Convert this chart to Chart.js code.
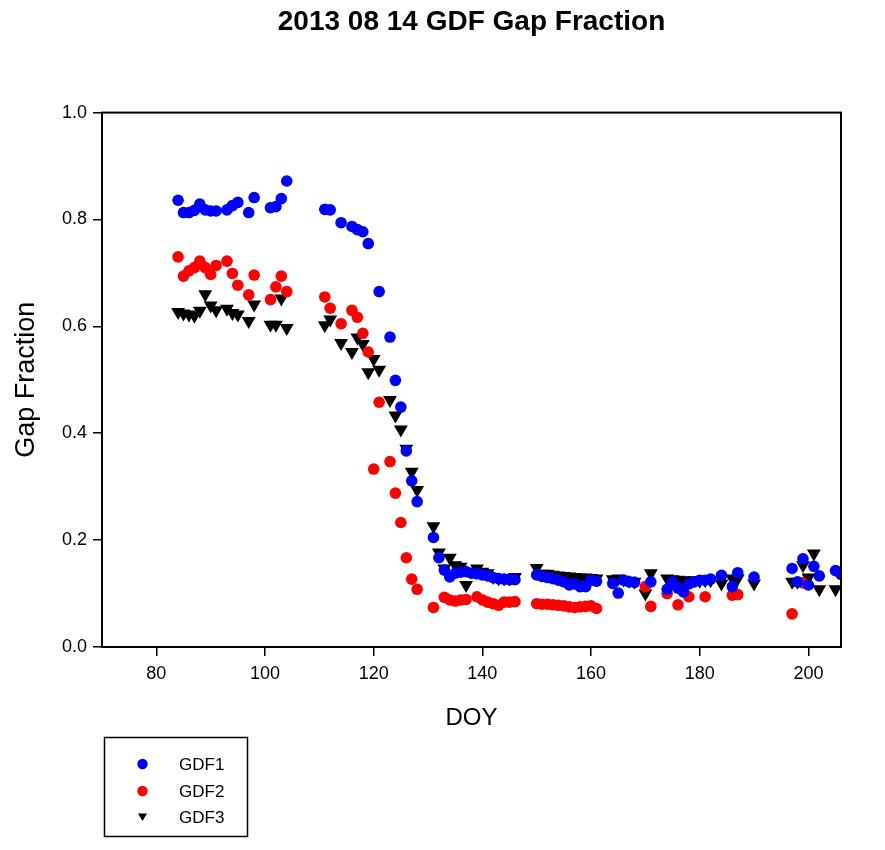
<!DOCTYPE html>
<html>
<head>
<meta charset="utf-8">
<script src="https://cdn.jsdelivr.net/npm/chart.js@4"></script>
<style>
  body { margin: 0; background: #fff; }
  canvas { display: block; }
</style>
</head>
<body>
<canvas id="grafico" width="885" height="850"></canvas>
<script>
// Datos
const gdf1Days = [84, 85, 86, 87, 88, 89, 90, 91, 93, 94, 95, 97, 98, 101, 102, 103, 104,
  111, 112, 114, 116, 117, 118, 119, 121, 123, 124, 125, 126, 127, 128,
  131, 132, 133, 134, 135, 136, 137, 138, 139, 140, 141, 142, 143, 144, 145, 146,
  150, 151, 152, 153, 154, 155, 156, 157, 158, 159, 160, 161,
  164, 165, 166, 167, 168, 171,
  174, 175, 176, 177, 178, 179, 180, 181, 182, 184, 186, 187, 190,
  197, 198, 199, 200, 201, 202, 205, 206];
const gdf1 = [0.836, 0.813, 0.813, 0.817, 0.829, 0.818, 0.816, 0.816, 0.818, 0.826, 0.832, 0.813, 0.841, 0.822, 0.824, 0.839, 0.872,
  0.819, 0.818, 0.794, 0.787, 0.781, 0.777, 0.755, 0.665, 0.580, 0.499, 0.449, 0.367, 0.311, 0.272,
  0.205, 0.167, 0.144, 0.131, 0.138, 0.140, 0.141, 0.138, 0.137, 0.135, 0.133, 0.130, 0.128, 0.127, 0.126, 0.126,
  0.135, 0.132, 0.130, 0.128, 0.125, 0.122, 0.116, 0.118, 0.113, 0.113, 0.125, 0.123,
  0.119, 0.101, 0.125, 0.122, 0.121, 0.122,
  0.108, 0.122, 0.110, 0.103, 0.118, 0.122, 0.125, 0.125, 0.127, 0.134, 0.113, 0.139, 0.131,
  0.147, 0.122, 0.165, 0.116, 0.151, 0.133, 0.143, 0.136];

const gdf2Days = [84, 85, 86, 87, 88, 89, 90, 91, 93, 94, 95, 97, 98, 101, 102, 103, 104,
  111, 112, 114, 116, 117, 118, 119, 120, 121, 123, 124, 125, 126, 127, 128,
  131, 133, 134, 135, 136, 137, 139, 140, 141, 142, 143, 144, 145, 146,
  150, 151, 152, 153, 154, 155, 156, 157, 158, 159, 160, 161,
  170, 171, 174, 176, 178, 181, 186, 187,
  197, 199];
const gdf2 = [0.730, 0.694, 0.704, 0.710, 0.722, 0.710, 0.697, 0.714, 0.722, 0.699, 0.677, 0.659, 0.696, 0.650, 0.674, 0.694, 0.665,
  0.655, 0.634, 0.605, 0.630, 0.617, 0.587, 0.552, 0.333, 0.458, 0.347, 0.288, 0.233, 0.167, 0.127, 0.108,
  0.074, 0.093, 0.088, 0.086, 0.088, 0.089, 0.094, 0.088, 0.084, 0.081, 0.078, 0.084, 0.084, 0.085,
  0.081, 0.080, 0.080, 0.079, 0.078, 0.077, 0.075, 0.074, 0.075, 0.076, 0.077, 0.072,
  0.113, 0.076, 0.100, 0.079, 0.094, 0.094, 0.097, 0.098,
  0.062, 0.120];

const gdf3Days = [84, 85, 86, 87, 88, 89, 90, 91, 93, 94, 95, 97, 98, 101, 102, 103, 104,
  111, 112, 114, 116, 117, 118, 119, 120, 121, 123, 124, 125, 126, 127, 128,
  131, 132, 133, 134, 135, 136, 137, 139, 140, 141, 142, 143, 144, 145, 146,
  150, 151, 152, 153, 154, 155, 156, 157, 158, 159, 160, 161,
  164, 165, 166, 167, 168, 170, 171,
  174, 175, 176, 177, 178, 179, 180, 181, 182, 184, 186, 187, 190,
  197, 198, 199, 200, 201, 202, 205, 206];
const gdf3 = [0.627, 0.624, 0.622, 0.620, 0.629, 0.660, 0.639, 0.630, 0.633, 0.625, 0.622, 0.610, 0.641, 0.603, 0.603, 0.652, 0.597,
  0.602, 0.613, 0.569, 0.552, 0.579, 0.567, 0.514, 0.539, 0.519, 0.462, 0.433, 0.407, 0.371, 0.328, 0.294,
  0.226, 0.177, 0.147, 0.167, 0.153, 0.150, 0.116, 0.147, 0.141, 0.138, 0.131, 0.128, 0.128, 0.128, 0.131,
  0.148, 0.137, 0.137, 0.135, 0.134, 0.133, 0.132, 0.131, 0.130, 0.130, 0.129, 0.128,
  0.127, 0.128, 0.126, 0.124, 0.122, 0.100, 0.138,
  0.128, 0.127, 0.126, 0.125, 0.124, 0.125, 0.124, 0.125, 0.125, 0.119, 0.128, 0.128, 0.119,
  0.122, 0.122, 0.153, 0.130, 0.175, 0.108, 0.108, 0.143];

const xTicks = [80, 100, 120, 140, 160, 180, 200];
const yTicks = [0, 0.2, 0.4, 0.6, 0.8, 1.0];

const fuente = "'Liberation Sans', Arial, sans-serif";

function puntos(dias, valores) {
  return dias.map((d, i) => ({ x: d, y: valores[i] }));
}

const series = [
  { label: "GDF1", data: puntos(gdf1Days, gdf1), color: "#0000ff", style: "circle", radius: 5.8, rotation: 0 },
  { label: "GDF2", data: puntos(gdf2Days, gdf2), color: "#ff0000", style: "circle", radius: 5.8, rotation: 0 },
  { label: "GDF3", data: puntos(gdf3Days, gdf3), color: "#000000", style: "triangle", radius: 8, rotation: 180 }
];

// marco completo y leyenda con recuadro
const marcoYLeyenda = {
  id: "marcoYLeyenda",
  afterDraw(chart) {
    const ctx = chart.ctx;
    const a = chart.chartArea;
    ctx.save();
    ctx.strokeStyle = "#000";
    ctx.lineWidth = 2;
    ctx.strokeRect(a.left, a.top, a.right - a.left, a.bottom - a.top);

    ctx.lineWidth = 1.5;
    ctx.strokeRect(104.5, 737.5, 143, 99);

    ctx.font = "17px " + fuente;
    ctx.textBaseline = "middle";
    ctx.textAlign = "left";
    const filas = [764, 791, 817];
    series.forEach((s, i) => {
      const y = filas[i];
      ctx.fillStyle = s.color;
      ctx.beginPath();
      if (s.style === "triangle") {
        ctx.moveTo(138, y - 3.5);
        ctx.lineTo(147, y - 3.5);
        ctx.lineTo(142.5, y + 4);
        ctx.closePath();
      } else {
        ctx.arc(142.5, y, 5.2, 0, Math.PI * 2);
      }
      ctx.fill();
      ctx.fillStyle = "#000";
      ctx.fillText(s.label, 179, y + 1);
    });
    ctx.restore();
  }
};

new Chart(document.getElementById("grafico"), {
  type: "scatter",
  data: {
    datasets: series.map(s => ({
      label: s.label,
      data: s.data,
      pointStyle: s.style,
      rotation: s.rotation,
      pointRadius: s.radius,
      pointHoverRadius: s.radius,
      backgroundColor: s.color,
      borderColor: s.color,
      borderWidth: 0
    }))
  },
  options: {
    responsive: false,
    animation: false,
    devicePixelRatio: 1,
    layout: { padding: { left: 0, right: 44, top: 0, bottom: 0 } },
    plugins: {
      legend: { display: false },
      tooltip: { enabled: false },
      title: {
        display: true,
        text: "2013 08 14 GDF Gap Fraction",
        fullSize: false,
        color: "#000",
        font: { family: fuente, size: 28, weight: "bold", lineHeight: 1.2 },
        padding: { top: 5, bottom: 74 }
      }
    },
    scales: {
      x: {
        type: "linear",
        min: 70,
        max: 206,
        afterFit: s => { s.height = 203; },
        afterBuildTicks: s => { s.ticks = xTicks.map(v => ({ value: v })); },
        grid: { display: true, drawOnChartArea: false, drawTicks: true, tickLength: 9, color: "#000", lineWidth: 1.5 },
        border: { display: true, color: "#000", width: 2 },
        ticks: { color: "#000", padding: 7, font: { family: fuente, size: 18 }, maxRotation: 0 },
        title: {
          display: true,
          text: "DOY",
          color: "#000",
          font: { family: fuente, size: 24, lineHeight: 1.2 },
          padding: { top: 0, bottom: 117 }
        }
      },
      y: {
        type: "linear",
        min: 0,
        max: 1,
        afterFit: s => { s.width = 102; },
        afterBuildTicks: s => { s.ticks = yTicks.map(v => ({ value: v })); },
        grid: { display: true, drawOnChartArea: false, drawTicks: true, tickLength: 9, color: "#000", lineWidth: 1.5 },
        border: { display: true, color: "#000", width: 2 },
        ticks: { color: "#000", padding: 6, font: { family: fuente, size: 18 }, callback: v => v.toFixed(1) },
        title: {
          display: true,
          text: "Gap Fraction",
          color: "#000",
          font: { family: fuente, size: 27, lineHeight: 1.2 },
          padding: { top: 10, bottom: 0 }
        }
      }
    }
  },
  plugins: [marcoYLeyenda]
});
</script>
</body>
</html>
